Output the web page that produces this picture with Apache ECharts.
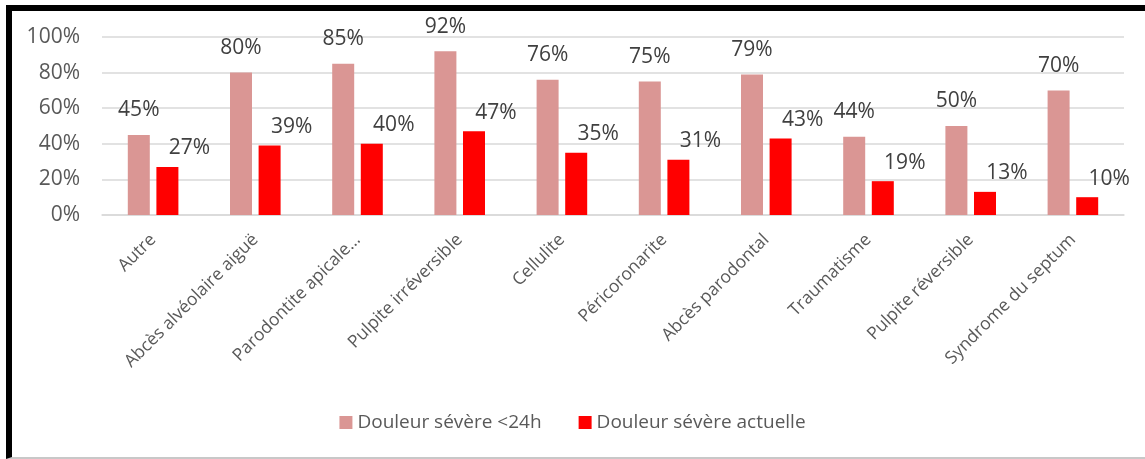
<!DOCTYPE html>
<html>
<head>
<meta charset="utf-8">
<script src="https://cdn.jsdelivr.net/npm/echarts@6/dist/echarts.min.js"></script>
<style>
  body { margin: 0; background: #fff; }
  #chart { position: absolute; left: 0; top: 0; width: 1145px; height: 459px; }
  #frame {
    position: absolute; left: 6px; top: 5px; width: 1139px; height: 454px;
    box-sizing: border-box; pointer-events: none;
    border-top: 6px solid #000; border-left: 6px solid #000; border-bottom: 2px solid #c8c8c8;
  }
</style>
</head>
<body>
<div id="chart"></div>
<div id="frame"></div>
<script>
var categories = ['Autre', 'Abcès alvéolaire aiguë', 'Parodontite apicale…', 'Pulpite irréversible',
  'Cellulite', 'Péricoronarite', 'Abcès parodontal', 'Traumatisme', 'Pulpite réversible', 'Syndrome du septum'];
var severe24h = [45, 80, 85, 92, 76, 75, 79, 44, 50, 70];
var severeNow = [27, 39, 40, 47, 35, 31, 43, 19, 13, 10];
var yTicks = [0, 20, 40, 60, 80, 100];

var font = '"Open Sans", sans-serif';
var myChart = echarts.init(document.getElementById('chart'));
myChart.setOption({
    animation: false,
    textStyle: { fontFamily: font },
    grid: { left: 102, right: 21, top: 37, bottom: 244 },
    legend: {
        bottom: 22,
        left: 'center',
        icon: 'rect',
        itemWidth: 13,
        itemHeight: 13,
        itemGap: 37,
        textStyle: { fontSize: 19, color: '#595959', fontFamily: font }
    },
    xAxis: {
        type: 'category',
        data: categories,
        axisLine: { lineStyle: { color: '#d9d9d9', width: 1.5 } },
        axisTick: { show: false },
        axisLabel: { rotate: 45, fontSize: 17.5, color: '#595959', margin: 22, interval: 0, fontFamily: font }
    },
    yAxis: {
        type: 'value',
        min: yTicks[0],
        max: yTicks[yTicks.length - 1],
        interval: 20,
        axisLine: { show: false },
        axisTick: { show: false },
        splitLine: { lineStyle: { color: '#d9d9d9', width: 1.5 } },
        axisLabel: { fontSize: 21, color: '#595959', margin: 22, formatter: '{value}%', fontFamily: font }
    },
    series: [{
        name: 'Douleur sévère <24h',
        type: 'bar',
        data: severe24h,
        barWidth: 22,
        barGap: '30%',
        itemStyle: { color: '#da9694' },
        label: { show: true, position: 'top', distance: 14, fontSize: 21, color: '#404040', formatter: '{c}%', fontFamily: font }
    }, {
        name: 'Douleur sévère actuelle',
        type: 'bar',
        data: severeNow,
        barWidth: 22,
        itemStyle: { color: '#ff0000' },
        label: { show: true, position: 'top', distance: 8, offset: [22, 0], fontSize: 21, color: '#404040', formatter: '{c}%', fontFamily: font }
    }]
});
</script>
</body>
</html>
